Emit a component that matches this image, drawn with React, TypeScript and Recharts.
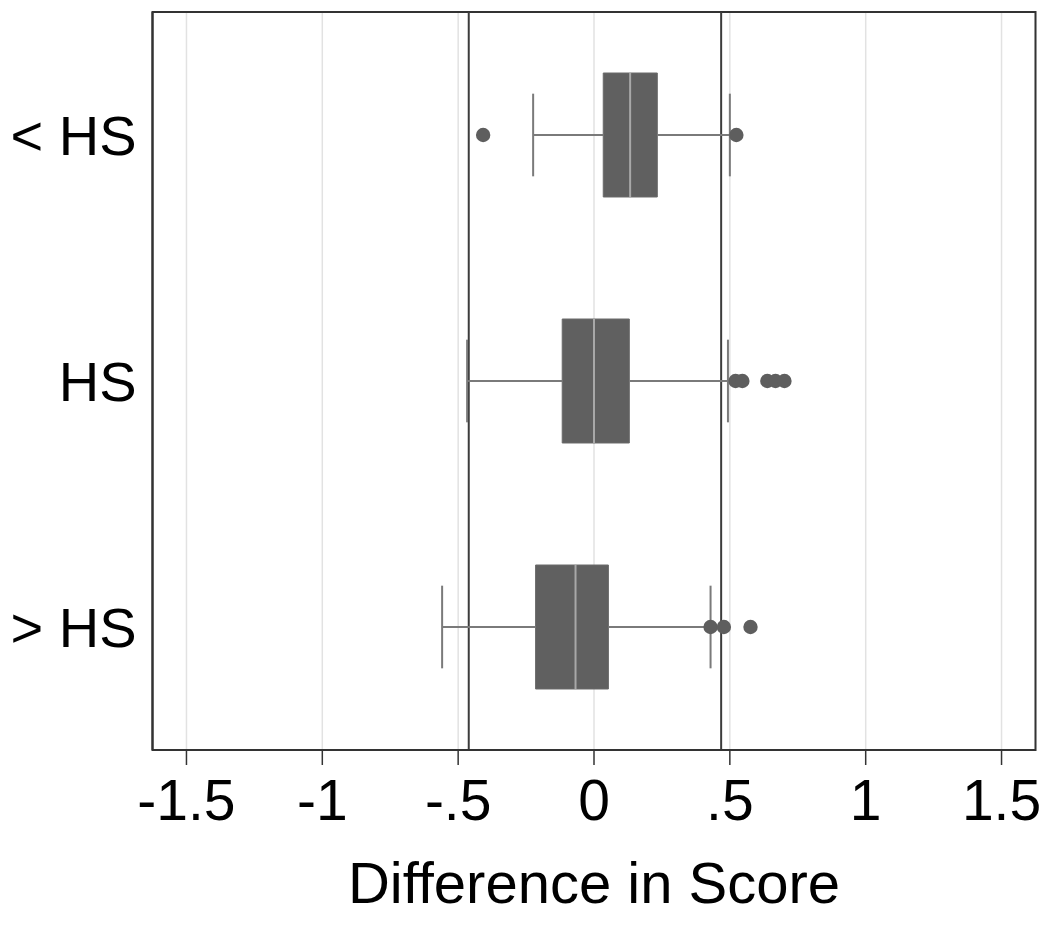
import { ComposedChart, XAxis, YAxis, CartesianGrid, ReferenceArea, ReferenceLine, Scatter } from "recharts"

const groups = ["< HS", "HS", "> HS"]
const q1 = [0.034, -0.117, -0.215]
const median = [0.133, 0.0, -0.068]
const q3 = [0.233, 0.13, 0.053]
const whiskerLow = [-0.224, -0.467, -0.559]
const whiskerHigh = [0.5, 0.493, 0.429]
const outliers = [
  [-0.408, 0.524],
  [0.521, 0.546, 0.638, 0.668, 0.701],
  [0.429, 0.478, 0.576],
]
const refLines = [-0.461, 0.468]
const xTicks = [-1.5, -1, -0.5, 0, 0.5, 1, 1.5]
const xTickLabels = ["-1.5", "-1", "-.5", "0", ".5", "1", "1.5"]

const FONT = "'Liberation Sans', Arial, sans-serif"
const BOX_HALF = 0.252
const CAP_HALF = 0.168
const X_MIN = -1.625
const X_MAX = 1.625

const outlierPoints = outliers.flatMap((vals, i) => vals.map((x) => ({ x, y: i + 0.5 })))

function TitleLabel(props: any) {
  const vb = props.viewBox
  return (
    <text x={vb.x + vb.width / 2} y={vb.y + 153} textAnchor="middle" fontSize={58} fontFamily={FONT} fill="#000">
      Difference in Score
    </text>
  )
}

export default function App() {
  return (
    <div style={{ width: 1040, height: 932 }}>
      <ComposedChart width={1040} height={932} data={outlierPoints} margin={{ top: 4, right: 12.5, left: 0, bottom: 0 }}>
        <CartesianGrid horizontal={false} stroke="#e2e2e2" strokeWidth={1.5} />
        <XAxis
          type="number"
          dataKey="x"
          domain={[X_MIN, X_MAX]}
          ticks={xTicks}
          allowDataOverflow
          tickFormatter={(v: number) => xTickLabels[xTicks.indexOf(v)]}
          height={190}
          tickSize={15}
          tickMargin={15}
          axisLine={{ stroke: "#333", strokeWidth: 2 }}
          tickLine={{ stroke: "#333", strokeWidth: 1.5 }}
          tick={{ fill: "#000", fontSize: 57, fontFamily: FONT }}
          label={<TitleLabel />}
        />
        <YAxis
          type="number"
          dataKey="y"
          domain={[0, 3]}
          reversed
          ticks={[0.5, 1.5, 2.5]}
          tickFormatter={(v: number) => groups[Math.floor(v)]}
          width={144.5}
          tickSize={0}
          tickMargin={16}
          axisLine={{ stroke: "#333", strokeWidth: 2 }}
          tickLine={false}
          tick={{ fill: "#000", fontSize: 56, fontFamily: FONT, dy: 0 }}
        />
        <ReferenceArea x1={X_MIN} x2={X_MAX} y1={0} y2={3} fill="none" stroke="#333" strokeWidth={2} />
        {groups.map((g, i) => (
          <ReferenceArea
            key={"box" + g}
            x1={q1[i]}
            x2={q3[i]}
            y1={i + 0.5 - BOX_HALF}
            y2={i + 0.5 + BOX_HALF}
            fill="#606060"
            fillOpacity={1}
            stroke="#6a6a6a"
            strokeWidth={1}
          />
        ))}
        {refLines.map((v) => (
          <ReferenceLine key={"ref" + v} x={v} stroke="#3c3c3c" strokeWidth={2} />
        ))}
        {groups.map((g, i) => (
          <ReferenceLine
            key={"wl" + g}
            segment={[{ x: whiskerLow[i], y: i + 0.5 }, { x: q1[i], y: i + 0.5 }]}
            stroke="#7a7a7a"
            strokeWidth={2}
          />
        ))}
        {groups.map((g, i) => (
          <ReferenceLine
            key={"wh" + g}
            segment={[{ x: q3[i], y: i + 0.5 }, { x: whiskerHigh[i], y: i + 0.5 }]}
            stroke="#7a7a7a"
            strokeWidth={2}
          />
        ))}
        {groups.map((g, i) => (
          <ReferenceLine
            key={"cl" + g}
            segment={[{ x: whiskerLow[i], y: i + 0.5 - CAP_HALF }, { x: whiskerLow[i], y: i + 0.5 + CAP_HALF }]}
            stroke="#7a7a7a"
            strokeWidth={2}
          />
        ))}
        {groups.map((g, i) => (
          <ReferenceLine
            key={"ch" + g}
            segment={[{ x: whiskerHigh[i], y: i + 0.5 - CAP_HALF }, { x: whiskerHigh[i], y: i + 0.5 + CAP_HALF }]}
            stroke="#7a7a7a"
            strokeWidth={2}
          />
        ))}
        {groups.map((g, i) => (
          <ReferenceLine
            key={"md" + g}
            segment={[{ x: median[i], y: i + 0.5 - BOX_HALF }, { x: median[i], y: i + 0.5 + BOX_HALF }]}
            stroke="#a8a8a8"
            strokeWidth={2}
          />
        ))}
        <Scatter
          dataKey="y"
          isAnimationActive={false}
          shape={(p: any) => <circle cx={p.cx} cy={p.cy} r={7.2} fill="#5e5e5e" />}
        />
      </ComposedChart>
    </div>
  )
}
